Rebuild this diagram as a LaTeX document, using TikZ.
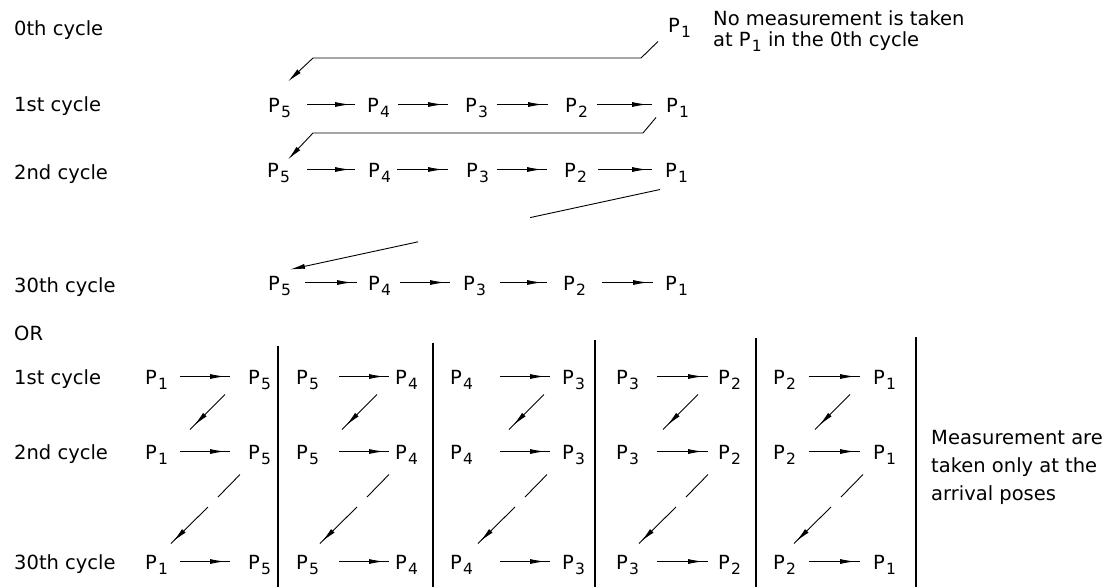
\documentclass[tikz,border=0pt]{standalone}
\usepackage{fontspec}
\setmainfont{DejaVu Sans}
\usetikzlibrary{arrows.meta,decorations.markings,calc}
\newcommand\PP[1]{P\kern1.2pt\raisebox{-5.5pt}{\fontsize{15.5}{15.5}\selectfont #1}}
\begin{document}
\begin{tikzpicture}[x=1pt,y=-1pt,
  txt/.style={anchor=base west,inner sep=0pt,font=\fontsize{19.5}{23}\selectfont},
  pl/.style={txt,text height=15pt,text depth=0pt},
  ln/.style={line width=0.9pt},
  tipped/.style={ln,-{Latex[length=15pt,width=5pt]}},
  flow/.style={ln,postaction={decorate},decoration={markings,mark=at position #1 with {\arrow{Latex[length=15pt,width=5pt]}}}},
  flow/.default=-5pt]
\useasboundingbox (0,0) rectangle (1108,587);

% ---------- left labels ----------
\node[txt] (l0)  at (14,35)  {0th cycle};
\node[txt] (l1)  at (14,111) {1st cycle};
\node[txt] (l2)  at (14,179) {2nd cycle};
\node[txt] (l30) at (14,292) {30th cycle};
\node[txt] (lor) at (14,340) {OR};
\node[txt] (m1)  at (14,384) {1st cycle};
\node[txt] (m2)  at (14,459) {2nd cycle};
\node[txt] (m30) at (14,569) {30th cycle};

% ---------- top section ----------
\node[pl] (t0p1) at (668,32) {\PP{1}};
\node[txt] (note0a) at (713,25) {No measurement is taken};
\node[txt] (note0b) at (713,46) {at \PP{1} in the 0th cycle};

% row 1
\node[pl] (r1p5) at (268,112) {\PP{5}};
\node[pl] (r1p4) at (367,112) {\PP{4}};
\node[pl] (r1p3) at (465,112) {\PP{3}};
\node[pl] (r1p2) at (565,112) {\PP{2}};
\node[pl] (r1p1) at (666,112) {\PP{1}};
\draw[flow] ([xshift=39]r1p5.west) -- ([xshift=-12]r1p4.west);
\draw[flow] ([xshift=31]r1p4.west) -- ([xshift=-17]r1p3.west);
\draw[flow] ([xshift=32]r1p3.west) -- ([xshift=-17]r1p2.west);
\draw[flow] ([xshift=32]r1p2.west) -- ([xshift=-14]r1p1.west);

% row 2
\node[pl] (r2p5) at (267,177) {\PP{5}};
\node[pl] (r2p4) at (368,177) {\PP{4}};
\node[pl] (r2p3) at (466,177) {\PP{3}};
\node[pl] (r2p2) at (564,177) {\PP{2}};
\node[pl] (r2p1) at (665,177) {\PP{1}};
\draw[flow] ([xshift=40]r2p5.west) -- ([xshift=-13]r2p4.west);
\draw[flow] ([xshift=29]r2p4.west) -- ([xshift=-18]r2p3.west);
\draw[flow] ([xshift=31]r2p3.west) -- ([xshift=-17]r2p2.west);
\draw[flow] ([xshift=34]r2p2.west) -- ([xshift=-13]r2p1.west);

% row 30
\node[pl] (r3p5) at (268,290) {\PP{5}};
\node[pl] (r3p4) at (368,290) {\PP{4}};
\node[pl] (r3p3) at (463,290) {\PP{3}};
\node[pl] (r3p2) at (563,290) {\PP{2}};
\node[pl] (r3p1) at (665,290) {\PP{1}};
\draw[flow] ([xshift=37]r3p5.west) -- ([xshift=-11]r3p4.west);
\draw[flow] ([xshift=32]r3p4.west) -- ([xshift=-13]r3p3.west);
\draw[flow] ([xshift=37]r3p3.west) -- ([xshift=-16]r3p2.west);
\draw[flow] ([xshift=39]r3p2.west) -- ([xshift=-12]r3p1.west);

% return lines
\draw[tipped] ([shift={(-10,17)}]t0p1.west) -- (641,58) -- (313,58) -- ([shift={(20,-23)}]r1p5.west);
\draw[tipped] ([shift={(-10,13)}]r1p1.west) -- (643,133) -- (313,133) -- ([shift={(21,-10)}]r2p5.west);
\coordinate (d1) at ([shift={(-5,20)}]r2p1.west);
\coordinate (d2) at ([shift={(22,-13)}]r3p5.west);
\draw[ln] (d1) -- ($(d1)!0.351!(d2)$);
\draw[tipped] ($(d1)!0.654!(d2)$) -- (d2);

% ---------- bottom section ----------
\foreach \xx/\yt in {278/346,433/343,595/340,756/338,916/337}
  \draw[line width=1.1pt] (\xx,\yt) -- (\xx,587);

\foreach \c/\L/\R/\lx/\rx/\as/\ae/\da/\db in {
   1/1/5/145/248/180/230/225/240,
   2/5/4/296/395/339/389/377/389,
   3/4/3/450/562/500/550/544/547,
   4/3/2/616/718/657/708/698/708,
   5/2/1/773/873/809/860/850/863}{
  \foreach \r/\yc in {1/377,2/452,3/562}{
    \node[pl] (b-\c-\r-L) at (\lx,\yc+7) {\PP{\L}};
    \node[pl] (b-\c-\r-R) at (\rx,\yc+7) {\PP{\R}};
    \draw[flow] ([xshift={\as-\lx}]b-\c-\r-L.west) -- ([xshift={\ae-\rx}]b-\c-\r-R.west);
  }
  \draw[flow=-6pt] ([shift={(\da-\rx,18)}]b-\c-1-R.west) -- ([shift={(\da-35-\lx,-22)}]b-\c-2-L.west);
  \coordinate (g-\c-a) at (\db-22,497);
  \coordinate (g-\c-b) at (\db-32,507);
  \draw[ln] ([shift={(\db-\rx,23)}]b-\c-2-R.west) -- (g-\c-a);
  \draw[flow=-3pt] (g-\c-b) -- ([shift={(\db-69-\lx,-18)}]b-\c-3-L.west);
}

\node[txt] (note1a) at (931,444) {Measurement are};
\node[txt] (note1b) at (931,472) {taken only at the};
\node[txt] (note1c) at (931,500) {arrival poses};
\end{tikzpicture}
\end{document}
